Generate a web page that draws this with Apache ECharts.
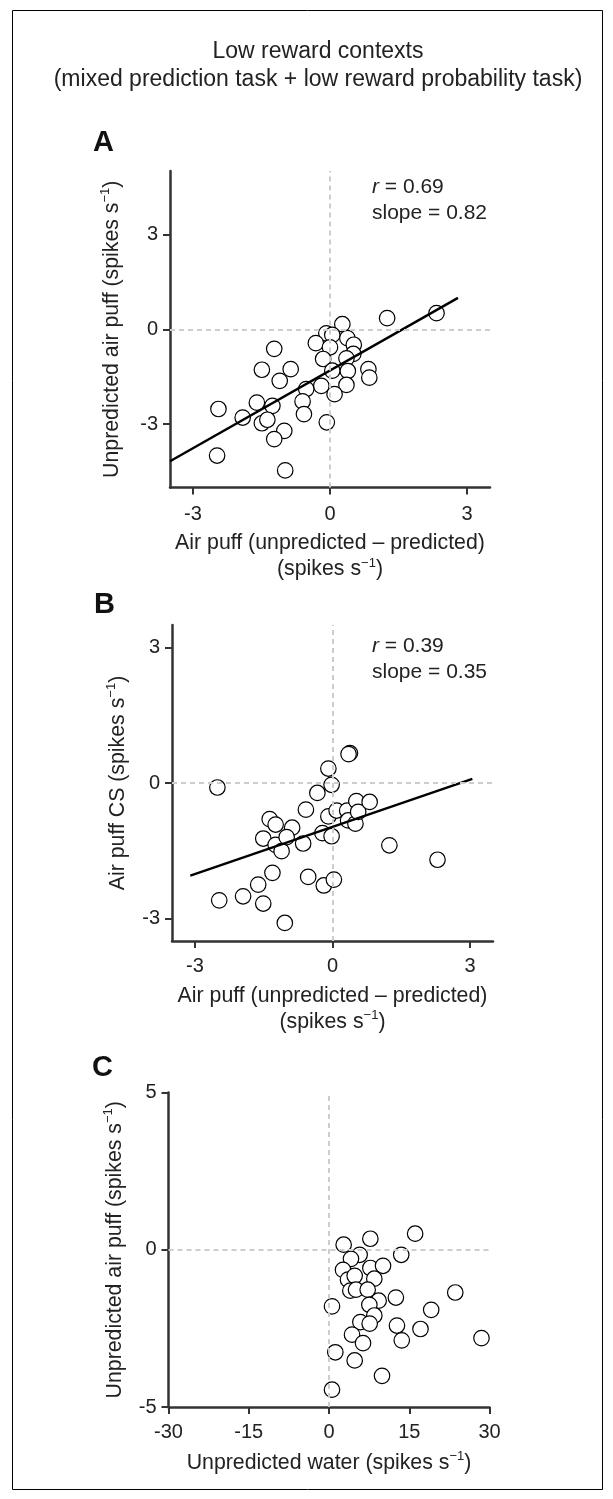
<!DOCTYPE html>
<html>
<head>
<meta charset="utf-8">
<script src="https://cdn.jsdelivr.net/npm/echarts@6/dist/echarts.min.js"></script>
<style>
html,body{margin:0;padding:0;background:#fff;}
#c{width:613px;height:1499px;}
</style>
</head>
<body>
<div id="c"></div>
<script>
// ---------- data ----------
const titleLines = ['Low reward contexts', '(mixed prediction task + low reward probability task)'];
const panelLetters = ['A', 'B', 'C'];

// Panel A: x = air puff (unpredicted - predicted), y = unpredicted air puff
const ptsA = [
  [2.33,0.51],[1.25,0.35],[0.27,0.16],[-0.08,-0.13],[0.05,-0.18],[0.38,-0.28],
  [-0.31,-0.44],[0.00,-0.57],[0.52,-0.49],[-1.22,-0.62],[0.51,-0.78],[-0.15,-0.94],
  [0.36,-0.92],[-1.49,-1.28],[-0.86,-1.26],[0.05,-1.31],[0.39,-1.32],[0.84,-1.26],
  [0.86,-1.53],[-1.10,-1.63],[-0.19,-1.79],[0.36,-1.76],[-0.52,-1.89],[0.10,-2.05],
  [-0.60,-2.28],[-1.60,-2.32],[-1.26,-2.42],[-2.44,-2.52],[-1.91,-2.79],[-0.57,-2.68],
  [-1.49,-2.97],[-1.37,-2.86],[-0.07,-2.94],[-1.00,-3.21],[-1.22,-3.47],[-2.47,-3.99],
  [-0.98,-4.46]
];
const fitA = [[-3.5,-4.17],[2.8,0.99]];
const statA = ['0.69', '0.82'];

// Panel B: x = air puff (unpredicted - predicted), y = air puff CS
const ptsB = [
  [-2.51,-0.10],[-2.47,-2.60],[-1.95,-2.51],[-1.62,-2.25],[-1.51,-2.67],[-1.31,-1.99],
  [-1.04,-3.10],[-1.51,-1.23],[-1.37,-0.80],[-1.24,-0.92],[-0.88,-0.99],[-1.24,-1.37],
  [-1.11,-1.51],[-1.00,-1.20],[-0.64,-1.34],[-0.58,-0.59],[-0.53,-2.08],[-0.33,-0.22],
  [-0.19,-2.27],[0.03,-2.14],[-0.22,-1.11],[-0.02,-1.18],[-0.09,-0.74],[-0.09,0.32],
  [-0.02,-0.04],[0.09,-0.61],[0.32,-0.61],[0.38,0.66],[0.35,0.64],[0.34,-0.83],
  [0.50,-0.90],[0.52,-0.40],[0.56,-0.64],[0.81,-0.42],[1.24,-1.38],[2.29,-1.70]
];
const fitB = [[-3.1,-2.05],[3.05,0.09]];
const statB = ['0.39', '0.35'];

// Panel C: x = unpredicted water, y = unpredicted air puff
const ptsC = [
  [2.74,0.16],[7.73,0.35],[16.1,0.51],[13.5,-0.16],[5.73,-0.16],[4.11,-0.29],
  [2.62,-0.64],[7.73,-0.58],[10.1,-0.51],[3.55,-0.95],[4.80,-0.83],[8.47,-0.92],
  [3.99,-1.30],[5.05,-1.27],[7.23,-1.27],[23.6,-1.36],[12.5,-1.52],[9.28,-1.62],
  [0.56,-1.80],[7.54,-1.75],[19.1,-1.91],[8.47,-2.09],[5.86,-2.30],[7.60,-2.35],
  [12.7,-2.41],[17.1,-2.52],[4.30,-2.70],[6.36,-2.97],[13.6,-2.88],[28.5,-2.81],
  [1.18,-3.26],[4.80,-3.52],[9.91,-4.01],[0.56,-4.45]
];

const ticksAB = [-3, 0, 3];
const ticksCx = [-30, -15, 0, 15, 30];
const ticksCy = [-5, 0, 5];

const xNameAB = 'Air puff (unpredicted \u2013 predicted)';
const xNameC = 'Unpredicted water';
const yNameA = 'Unpredicted air puff';
const yNameB = 'Air puff CS';
const yNameC = 'Unpredicted air puff';

// ---------- styles ----------
const F = 'Liberation Sans, Arial, Helvetica, sans-serif';
const TXT = '#222';
const AX = '#333';
const richName = {
  m: {fontSize: 21.3, fontFamily: F, color: TXT, lineHeight: 26},
  sup: {fontSize: 13, fontFamily: F, color: TXT, lineHeight: 26, verticalAlign: 'top'}
};
function nm(main) { return '{m|' + main + ' (spikes s}{sup|\u22121}{m|)}'; }
function nm2(main) { return '{m|' + main + '}\n{m|(spikes s}{sup|\u22121}{m|)}'; }

function makeAxis(idx, min, max, ticks, name, gap, margin) {
  return {
    gridIndex: idx, type: 'value', min: min, max: max,
    name: name, nameLocation: 'middle', nameGap: gap,
    nameTextStyle: {rich: richName, fontSize: 21.3, fontFamily: F, color: TXT, lineHeight: 26},
    axisLine: {show: true, onZero: false, lineStyle: {color: AX, width: 2.5}},
    axisTick: {show: true, inside: false, length: 7, customValues: ticks, lineStyle: {color: AX, width: 2}},
    axisLabel: {show: true, customValues: ticks, margin: margin, fontSize: 20, fontFamily: F, color: TXT},
    splitLine: {show: false}
  };
}
function scatter(idx, pts) {
  return {
    type: 'scatter', xAxisIndex: idx, yAxisIndex: idx, data: pts, z: 3,
    symbol: 'circle', symbolSize: 15.5,
    itemStyle: {color: '#fff', borderColor: '#000', borderWidth: 1.2, opacity: 1},
    emphasis: {disabled: true}, silent: true
  };
}
function zeroLines(idx) {
  return {
    type: 'line', xAxisIndex: idx, yAxisIndex: idx, data: [], z: 1, silent: true,
    markLine: {
      silent: true, symbol: ['none', 'none'], label: {show: false},
      lineStyle: {color: '#cdcdcd', width: 2, type: [5, 4]},
      data: [{xAxis: 0}, {yAxis: 0}]
    }
  };
}
function fit(idx, pts) {
  return {
    type: 'line', xAxisIndex: idx, yAxisIndex: idx, data: pts, z: 4,
    symbol: 'none', lineStyle: {color: '#000', width: 2.4}, silent: true
  };
}
function txt(x, y, text, size, extra) {
  return {
    type: 'text', x: x, y: y, silent: true,
    style: Object.assign({
      text: text, fontSize: size, fontFamily: F, fill: TXT,
      textAlign: 'left', textVerticalAlign: 'middle'
    }, extra || {})
  };
}
const richStat = {i: {fontStyle: 'italic', fontSize: 21, fontFamily: F, fill: TXT}};

const chart = echarts.init(document.getElementById('c'), null, {renderer: 'canvas'});
chart.setOption({
  animation: false,
  backgroundColor: '#fff',
  grid: [
    {left: 170, top: 171, width: 320, height: 316.5},
    {left: 172, top: 625, width: 321, height: 316},
    {left: 168.5, top: 1092.5, width: 321, height: 314.5}
  ],
  xAxis: [
    makeAxis(0, -3.5, 3.5, ticksAB, nm2(xNameAB), 43, 17),
    makeAxis(1, -3.5, 3.5, ticksAB, nm2(xNameAB), 42, 15),
    makeAxis(2, -30, 30, ticksCx, nm(xNameC), 43, 15)
  ],
  yAxis: [
    makeAxis(0, -5, 5, ticksAB, nm(yNameA), 45, 12),
    makeAxis(1, -3.5, 3.5, ticksAB, nm(yNameB), 41, 12),
    makeAxis(2, -5, 5, ticksCy, nm(yNameC), 38.5, 12)
  ],
  series: [
    zeroLines(0), scatter(0, ptsA), fit(0, fitA),
    zeroLines(1), scatter(1, ptsB), fit(1, fitB),
    zeroLines(2), scatter(2, ptsC)
  ],
  graphic: [
    {type: 'rect', silent: true, shape: {x: 12.5, y: 10.5, width: 590, height: 1479},
     style: {fill: 'none', stroke: '#000', lineWidth: 1}},
    txt(318, 52, titleLines[0], 23, {textAlign: 'center'}),
    txt(318, 80, titleLines[1], 23, {textAlign: 'center'}),
    txt(93, 143, panelLetters[0], 29, {fontWeight: 'bold', fill: '#111'}),
    txt(94, 605, panelLetters[1], 29, {fontWeight: 'bold', fill: '#111'}),
    txt(92, 1068, panelLetters[2], 29, {fontWeight: 'bold', fill: '#111'}),
    txt(372, 187, '{i|r} = ' + statA[0], 21, {rich: richStat}),
    txt(372, 213, 'slope = ' + statA[1], 21),
    txt(372, 646, '{i|r} = ' + statB[0], 21, {rich: richStat}),
    txt(372, 672, 'slope = ' + statB[1], 21)
  ]
});
</script>
</body>
</html>
